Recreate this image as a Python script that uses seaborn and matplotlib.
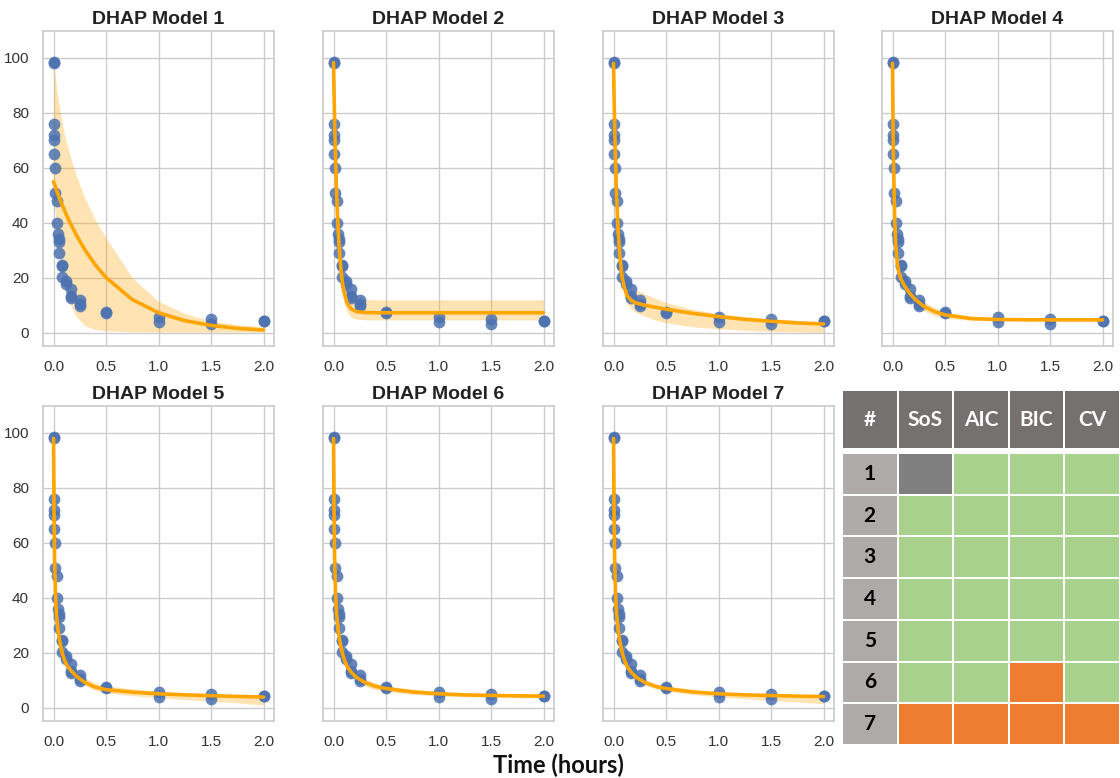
import numpy as np
import pandas as pd
import seaborn as sns
import matplotlib
matplotlib.use("Agg")
import matplotlib.pyplot as plt
from matplotlib.colors import ListedColormap

sns.set_theme(style="whitegrid")
plt.rcParams['font.family'] = ['Liberation Sans', 'DejaVu Sans']

# ---------------- observed data ----------------
obs_time = [0, 0, 0.005, 0.005, 0.008, 0.008, 0.01, 0.01, 0.03, 0.035, 0.04,
            0.05, 0.054, 0.05, 0.083, 0.083, 0.083, 0.117, 0.117, 0.167, 0.167,
            0.167, 0.25, 0.25, 0.25, 0.5, 0.5, 1.0, 1.0, 1.5, 1.5, 2.0, 2.0]
obs_conc = [98.5, 98.0, 76.0, 72.0, 70.0, 65.0, 60.0, 51.0, 48.0, 40.0, 36.0,
            34.0, 33.0, 29.0, 24.7, 24.2, 20.4, 18.9, 17.7, 16.0, 13.5,
            12.6, 12.0, 9.9, 10.5, 7.1, 7.4, 5.6, 4.0, 4.9, 3.3, 4.4, 4.3]

# ---------------- fitted curves ----------------
fit_time = [0, 0.005, 0.01, 0.02, 0.03, 0.045, 0.06, 0.08, 0.1, 0.13, 0.17,
            0.22, 0.3, 0.4, 0.5, 0.75, 1.0, 1.25, 1.5, 1.75, 2.0]

model1_fit = [55.0, 54.4, 53.9, 52.8, 51.8, 50.2, 48.7, 46.8, 45.0, 42.3, 39.1,
              35.4, 30.1, 24.6, 20.1, 12.1, 7.3, 4.4, 2.7, 1.6, 1.0]
model1_lo = [52.0, 49.5, 47.0, 42.6, 38.5, 33.2, 28.5, 23.4, 19.1, 14.2, 9.5,
             5.8, 2.6, 1.2, 0.7, 0.4, 0.3, 0.3, 0.3, 0.3, 0.3]
model1_hi = [98.0, 96.5, 95.0, 92.0, 89.0, 85.0, 81.5, 77.0, 73.0, 68.5, 63.0,
             57.0, 49.0, 41.0, 34.5, 20.0, 11.5, 7.0, 4.3, 3.0, 2.2]

model2_fit = [98.3, 87.6, 78.2, 62.5, 50.3, 36.8, 27.6, 19.6, 14.8, 10.8, 8.6,
              7.7, 7.35, 7.3, 7.3, 7.3, 7.3, 7.3, 7.3, 7.3, 7.3]
model2_lo = [98.3, 86.5, 76.2, 59.2, 46.3, 32.5, 23.2, 15.5, 11.0, 7.5, 5.65,
             4.95, 4.73, 4.7, 4.7, 4.7, 4.7, 4.7, 4.7, 4.7, 4.7]
model2_hi = [98.3, 88.9, 80.6, 66.5, 55.3, 42.6, 33.7, 25.7, 20.7, 16.3, 13.7,
             12.5, 12.1, 12.0, 12.0, 12.0, 12.0, 12.0, 12.0, 12.0, 12.0]

model3_fit = [98.0, 86.8, 77.0, 61.1, 49.1, 36.4, 27.9, 20.9, 16.8, 13.5, 11.7,
              10.8, 10.0, 9.3, 8.6, 7.1, 5.9, 4.9, 4.2, 3.6, 3.2]
model3_lo = [98.0, 86.0, 76.0, 59.5, 47.0, 34.0, 25.0, 17.5, 13.5, 10.5, 8.6,
             7.3, 6.0, 4.6, 3.6, 2.2, 1.4, 0.9, 0.5, 0.3, 0.2]
model3_hi = [98.0, 87.5, 78.0, 62.5, 51.0, 38.5, 30.5, 23.5, 20.0, 17.5, 16.3,
             15.4, 14.2, 12.5, 11.0, 8.6, 7.0, 5.9, 5.1, 4.5, 4.0]

model4_fit = [98.0, 76.7, 61.4, 42.5, 32.6, 25.5, 22.1, 19.7, 18.1, 16.2, 14.1,
              12.0, 9.6, 7.7, 6.5, 5.2, 4.85, 4.75, 4.7, 4.7, 4.7]
model4_lo = [98.0, 76.2, 60.6, 41.5, 31.6, 24.5, 21.1, 18.6, 16.9, 14.8, 12.5,
             10.3, 7.9, 6.2, 5.3, 4.5, 4.35, 4.35, 4.3, 4.3, 4.3]
model4_hi = [98.0, 77.2, 62.2, 43.5, 33.6, 26.5, 23.1, 20.8, 19.3, 17.6, 15.7,
             13.7, 11.3, 9.2, 7.7, 5.9, 5.35, 5.15, 5.1, 5.1, 5.1]

model5_fit = [98.0, 72.0, 55.0, 40.0, 33.0, 27.5, 24.0, 20.5, 17.8, 15.3, 13.4,
              11.4, 9.2, 7.5, 6.6, 5.7, 5.1, 4.7, 4.4, 4.15, 3.9]
model5_lo = [98.0, 71.3, 54.2, 39.2, 32.2, 26.7, 23.2, 19.7, 17.0, 14.4, 12.4,
             10.3, 8.0, 6.3, 5.4, 4.4, 3.7, 3.0, 2.4, 1.8, 1.0]
model5_hi = [98.0, 72.7, 55.8, 40.8, 33.8, 28.3, 24.8, 21.3, 18.7, 16.3, 14.6,
             12.8, 10.8, 9.0, 8.0, 6.9, 6.1, 5.5, 5.1, 4.8, 4.5]

model6_fit = [98.0, 73.0, 56.0, 41.0, 34.0, 28.0, 24.2, 20.6, 17.8, 15.0, 12.9,
              11.0, 9.2, 7.8, 7.0, 5.8, 5.1, 4.7, 4.5, 4.35, 4.25]
model6_lo = [98.0, 72.2, 55.2, 40.2, 33.2, 27.1, 23.3, 19.6, 16.8, 13.9, 11.7,
             9.7, 7.9, 6.6, 5.9, 4.9, 4.3, 4.0, 3.8, 3.65, 3.55]
model6_hi = [98.0, 73.8, 56.8, 41.8, 34.8, 28.9, 25.1, 21.6, 18.8, 16.1, 14.1,
             12.3, 10.5, 9.0, 8.1, 6.7, 5.9, 5.4, 5.2, 5.05, 4.95]

model7_fit = [98.0, 73.0, 56.0, 41.0, 34.0, 28.0, 24.2, 20.6, 17.8, 15.0, 12.9,
              11.0, 9.2, 7.8, 7.0, 5.8, 5.1, 4.7, 4.45, 4.25, 4.1]
model7_lo = [98.0, 72.3, 55.3, 40.3, 33.3, 27.2, 23.4, 19.7, 16.9, 14.0, 11.8,
             9.9, 8.2, 6.9, 6.0, 4.8, 4.0, 3.3, 2.7, 2.1, 1.5]
model7_hi = [98.0, 73.7, 56.7, 41.7, 34.7, 28.8, 25.0, 21.5, 18.7, 16.0, 14.0,
             12.1, 10.3, 8.8, 8.0, 6.6, 5.8, 5.3, 5.0, 4.7, 4.5]

model_titles = ["DHAP Model 1", "DHAP Model 2", "DHAP Model 3", "DHAP Model 4",
                "DHAP Model 5", "DHAP Model 6", "DHAP Model 7"]

x_ticks = [0.0, 0.5, 1.0, 1.5, 2.0]
y_ticks = [0, 20, 40, 60, 80, 100]

# ---------------- table ----------------
table_header = ["#", "SoS", "AIC", "BIC", "CV"]
table_rows = ["1", "2", "3", "4", "5", "6", "7"]
# 0 = grey (n/a), 1 = green, 2 = orange
table_status = [[0, 1, 1, 1],
                [1, 1, 1, 1],
                [1, 1, 1, 1],
                [1, 1, 1, 1],
                [1, 1, 1, 1],
                [1, 1, 2, 1],
                [2, 2, 2, 2]]

# ---------------- drawing ----------------
W, H = 1120, 778
fig = plt.figure(figsize=(W / 100, H / 100), dpi=100)


def add_ax(left, top, width, height):
    return fig.add_axes([left / W, 1 - (top + height) / H, width / W, height / H])


fits = [(model1_fit, model1_lo, model1_hi), (model2_fit, model2_lo, model2_hi),
        (model3_fit, model3_lo, model3_hi), (model4_fit, model4_lo, model4_hi),
        (model5_fit, model5_lo, model5_hi), (model6_fit, model6_lo, model6_hi),
        (model7_fit, model7_lo, model7_hi)]

lefts = [43, 323, 603, 882]
tops = [31, 406]
aw, ah = 231, 315

obs = pd.DataFrame({"t": obs_time, "c": obs_conc})

for i, (fit, lo, hi) in enumerate(fits):
    r, c = divmod(i, 4)
    ax = add_ax(lefts[c], tops[r], aw, ah)
    ax.fill_between(fit_time, lo, hi, color="orange", alpha=0.3, linewidth=0, zorder=1)
    sns.scatterplot(data=obs, x="t", y="c", ax=ax, color="#4C72B0", s=72,
                    linewidth=0, alpha=0.85, zorder=3)
    sns.lineplot(x=fit_time, y=fit, ax=ax, color="orange", linewidth=2.6,
                 estimator=None, zorder=4)
    ax.set_xlim(-0.1, 2.1)
    ax.set_ylim(-4.8, 109.8)
    ax.set_xticks(x_ticks)
    ax.set_xticklabels([f"{v:.1f}" for v in x_ticks])
    ax.set_yticks(y_ticks)
    if c == 0:
        ax.set_yticklabels([str(v) for v in y_ticks])
    else:
        ax.set_yticklabels([])
    ax.tick_params(labelsize=11, colors="#333333", pad=4)
    ax.set_xlabel("")
    ax.set_ylabel("")
    ax.set_title(model_titles[i], fontsize=14, fontweight="bold", pad=5, color="#222222")
    for sp in ax.spines.values():
        sp.set_color("#cccccc")

# table: header
tfont = ["Lato", "DejaVu Sans"]
hdr = add_ax(842, 390, 278, 59)
sns.heatmap(np.zeros((1, 5)), ax=hdr, cmap=ListedColormap(["#767171"]), cbar=False,
            linewidths=1.2, linecolor="white", xticklabels=False, yticklabels=False)
for j, lab in enumerate(table_header):
    hdr.text(j + 0.5, 0.5, lab, ha="center", va="center", color="white",
             fontsize=15, fontweight="bold", family=tfont)
hdr.axis("off")

body = add_ax(842, 453, 278, 292)
codes = np.array([[3] + row for row in table_status])
cmap = ListedColormap(["#7F7F7F", "#A9D18E", "#ED7D31", "#AEAAAA"])
sns.heatmap(codes, ax=body, cmap=cmap, vmin=-0.5, vmax=3.5, cbar=False,
            linewidths=1.2, linecolor="white", xticklabels=False, yticklabels=False)
for i, lab in enumerate(table_rows):
    body.text(0.5, i + 0.5, lab, ha="center", va="center", color="black",
              fontsize=15, fontweight="bold", family=tfont)
body.axis("off")

fig.text(558 / W, 1 - 765 / H, "Time (hours)", ha="center", va="center",
         fontsize=17, fontweight="bold", family=tfont, color="#111111")

fig.savefig("out.png", dpi=100)
